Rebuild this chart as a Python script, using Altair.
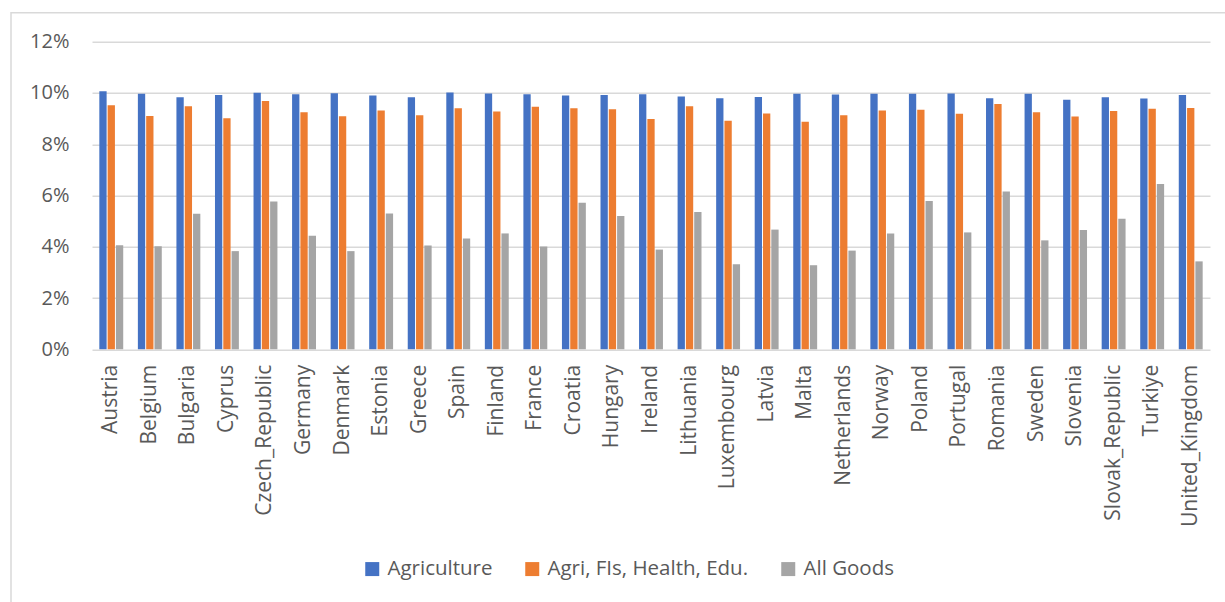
import altair as alt
import pandas as pd

countries = [
    "Austria", "Belgium", "Bulgaria", "Cyprus", "Czech_Republic", "Germany",
    "Denmark", "Estonia", "Greece", "Spain", "Finland", "France", "Croatia",
    "Hungary", "Ireland", "Lithuania", "Luxembourg", "Latvia", "Malta",
    "Netherlands", "Norway", "Poland", "Portugal", "Romania", "Sweden",
    "Slovenia", "Slovak_Republic", "Turkiye", "United_Kingdom",
]

# shares in percent
agriculture = [
    10.07, 9.97, 9.83, 9.92, 10.01, 9.95, 9.99, 9.90, 9.83, 10.02,
    9.98, 9.95, 9.90, 9.92, 9.95, 9.86, 9.79, 9.84, 9.97, 9.94,
    9.97, 9.97, 9.98, 9.79, 9.97, 9.74, 9.83, 9.78, 9.92,
]
agri_fis_health_edu = [
    9.52, 9.10, 9.48, 9.01, 9.69, 9.25, 9.09, 9.32, 9.13, 9.40,
    9.28, 9.46, 9.40, 9.36, 8.98, 9.48, 8.92, 9.20, 8.88, 9.13,
    9.32, 9.35, 9.19, 9.57, 9.25, 9.08, 9.30, 9.38, 9.41,
]
all_goods = [
    4.06, 4.02, 5.29, 3.83, 5.77, 4.43, 3.83, 5.30, 4.05, 4.32,
    4.52, 4.01, 5.72, 5.20, 3.89, 5.36, 3.32, 4.67, 3.28, 3.85,
    4.52, 5.79, 4.56, 6.16, 4.25, 4.65, 5.09, 6.45, 3.43,
]

series_names = ["Agriculture", "Agri, FIs, Health, Edu.", "All Goods"]
series_colors = ["#4472C4", "#ED7D31", "#A5A5A5"]

rows = []
for name, values in zip(series_names, [agriculture, agri_fis_health_edu, all_goods]):
    for c, v in zip(countries, values):
        rows.append({"country": c, "series": name, "value": v / 100.0})
df = pd.DataFrame(rows)

FONT = "Open Sans"
TEXT = "#595959"
GRID = "#D9D9D9"

bars = alt.Chart(df).mark_bar().encode(
    x=alt.X(
        "country:N",
        sort=countries,
        scale=alt.Scale(paddingInner=0.38, paddingOuter=0.19),
        axis=alt.Axis(
            title=None,
            labelAngle=270,
            labelAlign="right",
            labelBaseline="middle",
            labelPadding=15,
            labelFontSize=21,
            labelFont=FONT,
            labelColor=TEXT,
            labelLimit=300,
            ticks=False,
            domain=False,
            grid=False,
        ),
    ),
    xOffset=alt.XOffset(
        "series:N",
        sort=series_names,
        scale=alt.Scale(paddingInner=0.12),
    ),
    y=alt.Y(
        "value:Q",
        scale=alt.Scale(domain=[0, 0.12], nice=False),
        axis=alt.Axis(
            title=None,
            format=".0%",
            values=[0, 0.02, 0.04, 0.06, 0.08, 0.10, 0.12],
            labelPadding=23,
            labelFontSize=20,
            labelFont=FONT,
            labelColor=TEXT,
            ticks=False,
            domain=False,
            grid=True,
            gridColor=GRID,
            gridWidth=1.5,
        ),
    ),
    color=alt.Color(
        "series:N",
        sort=series_names,
        scale=alt.Scale(domain=series_names, range=series_colors),
        legend=alt.Legend(
            title=None,
            orient="none",
            direction="horizontal",
            legendX=270,
            legendY=517,
            symbolType="square",
            symbolSize=196,
            symbolStrokeWidth=0,
            labelFontSize=20.5,
            labelFont=FONT,
            labelColor=TEXT,
            labelLimit=400,
            labelOffset=5,
            columnPadding=29,
            padding=0,
        ),
    ),
)

# outer chart frame
frame = alt.Chart(pd.DataFrame({"f": [0]})).mark_rect(
    fill=None, stroke=GRID, strokeWidth=1.5
).encode(
    x=alt.value(-81),
    x2=alt.value(1200),
    y=alt.value(-29),
    y2=alt.value(700),
)

chart = (
    alt.layer(frame, bars)
    .properties(
        width=1118,
        height=307.6,
        padding={"left": 92, "top": 41.7, "right": 15, "bottom": 252.7},
        autosize=alt.AutoSizeParams(type="none"),
        background="white",
    )
    .configure_view(stroke=None)
)

chart.save("out.html", embed_options={"renderer": "svg", "actions": False})
